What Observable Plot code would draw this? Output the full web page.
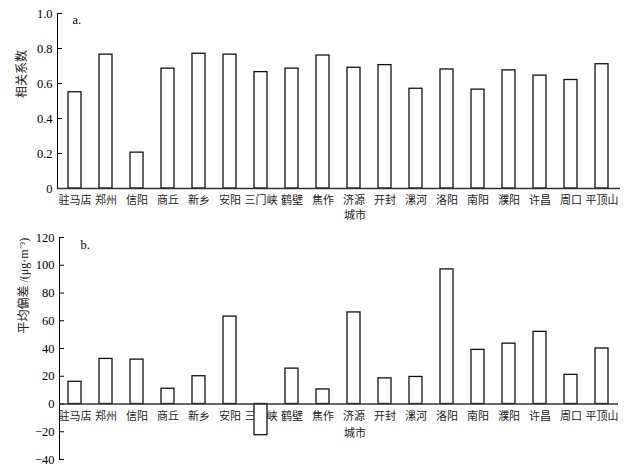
<!DOCTYPE html>
<html>
<head>
<meta charset="utf-8">
<script src="https://cdn.jsdelivr.net/npm/d3@7"></script>
<script src="https://cdn.jsdelivr.net/npm/@observablehq/plot@0.6"></script>
<style>
  html, body { margin: 0; padding: 0; background: #fff; }
  #chart svg { display: block; }
</style>
</head>
<body>
<div id="chart"></div>
<script>
const cities = ["驻马店", "郑州", "信阳", "商丘", "新乡", "安阳", "三门峡", "鹤壁", "焦作", "济源", "开封", "漯河", "洛阳", "南阳", "濮阳", "许昌", "周口", "平顶山"];
const corrValues = [0.55, 0.765, 0.205, 0.685, 0.77, 0.765, 0.665, 0.685, 0.76, 0.69, 0.705, 0.57, 0.68, 0.565, 0.675, 0.645, 0.62, 0.71];
const biasValues = [16, 32.5, 32, 11, 20, 63, -22.5, 25.5, 10.5, 66, 18.5, 19.5, 97, 39, 43.5, 52, 21, 40];
const corrTicks = [0, 0.2, 0.4, 0.6, 0.8, 1.0];
const biasTicks = [-40, -20, 0, 20, 40, 60, 80, 100, 120];
const xLabel = "城市";
const corrLabel = "相关系数";
const biasLabel = "平均偏差 /(μg·m⁻³)";

const corrData = cities.map((c, i) => ({city: c, v: corrValues[i]}));
const biasData = cities.map((c, i) => ({city: c, v: biasValues[i]}));

const font = "'Liberation Serif', 'Noto Sans CJK SC', serif";

function panel({data, ticks, domain, height, margins, yLabel, yLabelDy, tag, tickFormat, xLabelDy, tagDx, tagDy}) {
  return Plot.plot({
    width: 643,
    height,
    ...margins,
    style: {fontFamily: font, fontSize: "12px", color: "#000", background: "#fff"},
    x: {type: "band", domain: cities, paddingInner: 0.58, paddingOuter: 0.29, axis: null},
    y: {domain, axis: null},
    marks: [
      Plot.frame({anchor: "left", stroke: "#000", strokeWidth: 1}),
      Plot.axisY({ticks, tickSize: 5, dx: 5, tickPadding: 5, tickFormat, fontSize: 12.5, label: null}),
      Plot.text(data, {x: "city", y: () => 0, text: "city", dy: 12, fontSize: 11, fill: "#222", lineAnchor: "middle"}),
      Plot.barY(data, {x: "city", y: "v", fill: "#fff", stroke: "#111", strokeWidth: 1.3}),
      Plot.ruleY([0], {stroke: "#333", strokeWidth: 1.4}),
      Plot.text([yLabel], {frameAnchor: "left", rotate: -90, dx: -35, dy: yLabelDy, fontSize: 12, fill: "#222"}),
      Plot.text([xLabel], {frameAnchor: "bottom", dx: 16, dy: xLabelDy, fontSize: 11, fill: "#222"}),
      Plot.text([tag], {frameAnchor: "top-left", textAnchor: "start", dx: tagDx, dy: tagDy, fontSize: 12.5})
    ]
  });
}

const panelA = panel({
  data: corrData, ticks: corrTicks, domain: [0, 1], height: 225,
  margins: {marginLeft: 57, marginRight: 23, marginTop: 13, marginBottom: 37},
  yLabel: corrLabel, yLabelDy: -3, tag: "a.",
  tickFormat: d => d === 0 ? "0" : d3.format(".1f")(d),
  xLabelDy: 30, tagDx: 15, tagDy: 2
});
const panelB = panel({
  data: biasData, ticks: biasTicks, domain: [-40, 120], height: 245,
  margins: {marginLeft: 59, marginRight: 25, marginTop: 12, marginBottom: 11},
  yLabel: biasLabel, yLabelDy: -15, tag: "b.",
  tickFormat: d => d < 0 ? "−" + Math.abs(d) : String(d),
  xLabelDy: -23, tagDx: 21, tagDy: 3
});
document.getElementById("chart").append(panelA, panelB);
</script>
</body>
</html>
